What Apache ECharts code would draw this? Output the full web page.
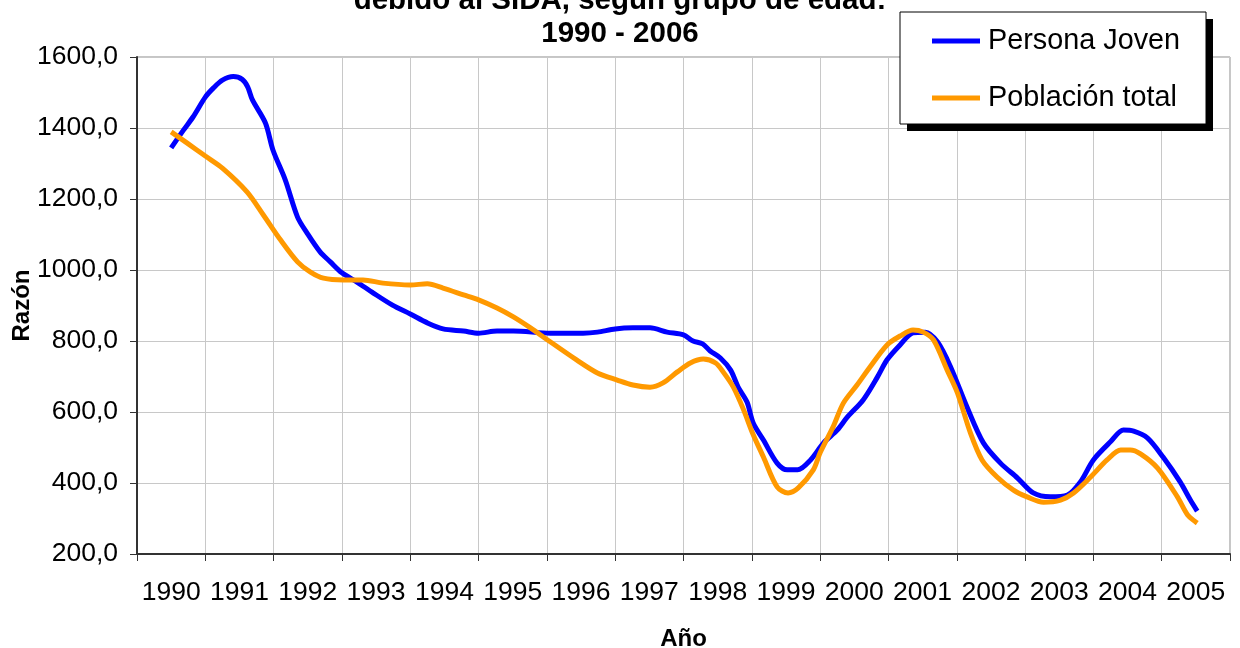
<!DOCTYPE html>
<html>
<head>
<meta charset="utf-8">
<script src="https://cdn.jsdelivr.net/npm/echarts@6/dist/echarts.min.js"></script>
<style>
  html, body { margin: 0; padding: 0; background: #fff; }
  #chart { width: 1240px; height: 648px; }
</style>
</head>
<body>
<div id="chart"></div>
<script>
// year labels on the category axis
const years = ['1990', '1991', '1992', '1993', '1994', '1995', '1996', '1997',
  '1998', '1999', '2000', '2001', '2002', '2003', '2004', '2005'];

// Persona Joven: position in years and value
const jovenYear = [1990.00, 1990.18, 1990.32, 1990.50, 1990.62, 1990.75, 1990.91, 1991.04, 1991.12,
  1991.19, 1991.38, 1991.49, 1991.67, 1991.85, 1991.99, 1992.18, 1992.33, 1992.50, 1992.72,
  1992.96, 1993.24, 1993.50, 1993.75, 1993.98, 1994.28, 1994.50, 1994.77, 1995.01, 1995.55,
  1996.03, 1996.24, 1996.50, 1996.76, 1997.01, 1997.26, 1997.50, 1997.64, 1997.78, 1997.89,
  1998.04, 1998.19, 1998.30, 1998.43, 1998.52, 1998.67, 1998.87, 1999.02, 1999.17, 1999.36,
  1999.55, 1999.75, 1999.90, 2000.13, 2000.34, 2000.48, 2000.67, 2000.86, 2001.04, 2001.22,
  2001.41, 2001.65, 2001.89, 2002.14, 2002.39, 2002.62, 2002.87, 2003.12, 2003.31, 2003.50,
  2003.75, 2003.94, 2004.09, 2004.29, 2004.52, 2004.77, 2004.92, 2005.02];
const jovenVal = [1344, 1394, 1431, 1487, 1513, 1535, 1545, 1537, 1516,
  1479, 1414, 1338, 1254, 1149, 1104, 1051, 1023, 992, 966,
  935, 901, 876, 851, 834, 828, 822, 828, 828, 822,
  822, 825, 834, 837, 837, 825, 817, 800, 792, 772,
  752, 718, 670, 628, 569, 521, 456, 437, 437, 465,
  513, 549, 586, 634, 699, 747, 789, 823, 825, 797,
  727, 614, 513, 456, 414, 372, 361, 366, 403, 465,
  516, 549, 546, 527, 473, 403, 352, 321];

// Poblacion total
const totalYear = [1990.00, 1990.23, 1990.50, 1990.75, 1991.11, 1991.35, 1991.60, 1991.85, 1992.04,
  1992.23, 1992.52, 1992.81, 1993.10, 1993.50, 1993.75, 1993.98, 1994.28, 1994.50, 1994.77,
  1995.01, 1995.26, 1995.51, 1995.94, 1996.24, 1996.53, 1996.76, 1997.01, 1997.20, 1997.41,
  1997.60, 1997.79, 1997.97, 1998.08, 1998.23, 1998.38, 1998.51, 1998.67, 1998.87, 1999.03,
  1999.18, 1999.40, 1999.50, 1999.69, 1999.84, 2000.04, 2000.23, 2000.48, 2000.67, 2000.86,
  2001.01, 2001.16, 2001.36, 2001.51, 2001.70, 2001.87, 2002.09, 2002.33, 2002.53, 2002.77,
  2003.02, 2003.21, 2003.46, 2003.70, 2003.90, 2004.04, 2004.19, 2004.44, 2004.73, 2004.88,
  2005.02];
const totalVal = [1389, 1358, 1321, 1287, 1220, 1155, 1085, 1023, 994,
  977, 972, 972, 963, 958, 961, 949, 930, 916, 893,
  868, 837, 803, 746, 710, 690, 676, 670, 682, 713,
  738, 749, 738, 713, 670, 606, 541, 473, 389, 372,
  386, 437, 485, 558, 625, 676, 727, 789, 814, 831,
  825, 803, 718, 654, 541, 465, 417, 380, 361, 346,
  352, 372, 417, 465, 493, 493, 482, 442, 361, 310,
  287];

const yTicks = { min: 200, max: 1600, step: 200 };

const chart = echarts.init(document.getElementById('chart'));
const font = 'Liberation Sans, Arial, sans-serif';

chart.setOption({
  animation: false,
  backgroundColor: '#fff',
  textStyle: { fontFamily: font, color: '#000' },
  title: {
    text: 'debido al SIDA, según grupo de edad:\n1990 - 2006',
    left: 'center',
    top: -16,
    padding: 0,
    textStyle: { fontFamily: font, fontSize: 29.5, fontWeight: 'bold', lineHeight: 33, color: '#000' }
  },
  // legend frame with its hard black shadow, like the spreadsheet original
  graphic: [{
    type: 'rect',
    z: 10,
    shape: { x: 907, y: 19, width: 306, height: 112 },
    style: { fill: '#000' }
  }, {
    type: 'rect',
    z: 11,
    shape: { x: 900, y: 12, width: 306, height: 112 },
    style: { fill: '#fff', stroke: '#000', lineWidth: 1 }
  }],
  legend: {
    orient: 'vertical',
    left: 932,
    top: 26,
    padding: 0,
    itemGap: 27,
    itemWidth: 48,
    itemHeight: 5,
    icon: 'rect',
    z: 20,
    textStyle: { fontFamily: font, fontSize: 28.8, lineHeight: 30, color: '#000', padding: [0, 0, 0, 3] },
    data: ['Persona Joven', 'Población total']
  },
  grid: {
    left: 137, right: 10, top: 57, bottom: 94,
    outerBoundsMode: 'none',
    show: true, borderColor: '#8c8c8c', borderWidth: 1
  },
  xAxis: [{
    type: 'category',
    data: years,
    boundaryGap: true,
    axisLine: { lineStyle: { color: '#333', width: 2 } },
    axisTick: { show: true, length: 7, lineStyle: { color: '#333', width: 1 } },
    axisLabel: { fontFamily: font, fontSize: 26.5, color: '#000', margin: 25, interval: 0 },
    splitLine: { show: true, interval: 0, lineStyle: { color: '#c8c8c8', width: 1 } },
    name: 'Año',
    nameLocation: 'middle',
    nameGap: 73,
    nameMoveOverlap: false,
    nameTextStyle: { fontFamily: font, fontSize: 24, fontWeight: 'bold', color: '#000' }
  }, {
    type: 'value',
    min: 1989.5,
    max: 2005.5,
    show: false
  }],
  yAxis: {
    type: 'value',
    min: yTicks.min,
    max: yTicks.max,
    interval: yTicks.step,
    axisLine: { show: true, lineStyle: { color: '#333', width: 2 } },
    axisTick: { show: true, length: 7, lineStyle: { color: '#333', width: 1 } },
    axisLabel: {
      fontFamily: font, fontSize: 26.5, color: '#000', margin: 19,
      formatter: v => v.toFixed(1).replace('.', ',')
    },
    splitLine: { show: true, lineStyle: { color: '#c8c8c8', width: 1 } },
    name: 'Razón',
    nameLocation: 'middle',
    nameGap: 103,
    nameMoveOverlap: false,
    nameTextStyle: { fontFamily: font, fontSize: 24, fontWeight: 'bold', color: '#000' }
  },
  series: [{
    name: 'Persona Joven',
    type: 'line',
    xAxisIndex: 1,
    data: jovenYear.map((x, i) => [x, jovenVal[i]]),
    smooth: 0.3,
    showSymbol: false,
    lineStyle: { color: '#0000ff', width: 5 },
    itemStyle: { color: '#0000ff' }
  }, {
    name: 'Población total',
    type: 'line',
    xAxisIndex: 1,
    data: totalYear.map((x, i) => [x, totalVal[i]]),
    smooth: 0.3,
    showSymbol: false,
    lineStyle: { color: '#ff9900', width: 5 },
    itemStyle: { color: '#ff9900' }
  }]
});
</script>
</body>
</html>
